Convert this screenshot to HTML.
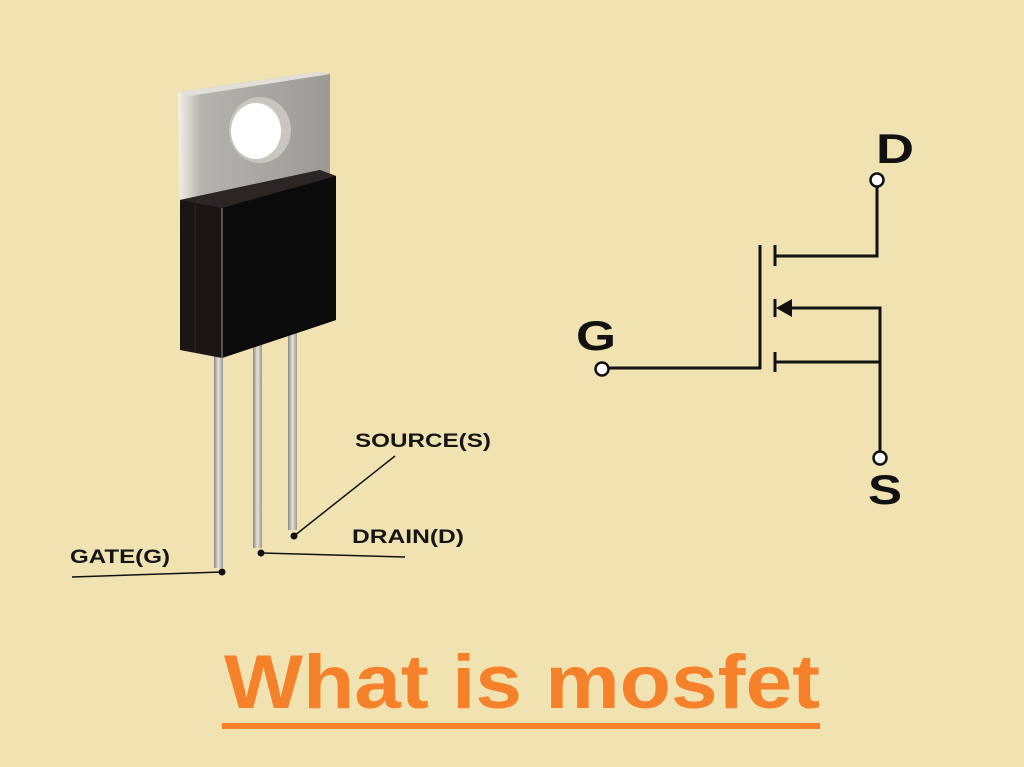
<!DOCTYPE html>
<html><head><style>
html,body{margin:0;padding:0;background:#F0E3B1;}
svg{display:block}
</style></head><body>
<svg width="1024" height="767" viewBox="0 0 1024 767" xmlns="http://www.w3.org/2000/svg">
<defs>
<linearGradient id="tab" x1="0" y1="0" x2="1" y2="0">
<stop offset="0" stop-color="#f4f1ea"/><stop offset="0.15" stop-color="#b5b3ad"/><stop offset="1" stop-color="#9c9a96"/>
</linearGradient>
<linearGradient id="lead" x1="0" y1="0" x2="1" y2="0">
<stop offset="0" stop-color="#8a8782"/><stop offset="0.5" stop-color="#e6e3dc"/><stop offset="1" stop-color="#9a9792"/>
</linearGradient>
</defs>
<rect width="1024" height="767" fill="#F0E3B1"/>
<rect x="214" y="340" width="9" height="228" fill="url(#lead)"/>
<rect x="253" y="335" width="9" height="213" fill="url(#lead)"/>
<rect x="288" y="325" width="9" height="205" fill="url(#lead)"/>
<polygon points="178,92 318,72 330,74 330,200 180,230" fill="url(#tab)"/>
<polygon points="178,92 318,72 330,74 190,96" fill="#e2dfd8"/>
<ellipse cx="260" cy="130" rx="31" ry="33" fill="#c9c6bf"/>
<ellipse cx="256" cy="131" rx="25" ry="28" fill="#ffffff"/>
<polygon points="180,200 320,170 336,176 336,320 222,358 180,350" fill="#1a1616"/>
<polygon points="180,200 320,170 336,176 222,208" fill="#2a2624"/>
<polygon points="222,208 336,176 336,320 222,358" fill="#0c0b0b"/>
<line x1="222" y1="208" x2="222" y2="358" stroke="#5a5552" stroke-width="2"/>
<line x1="195" y1="205" x2="195" y2="352" stroke="#2e2a28" stroke-width="1"/>
<g stroke="#111" stroke-width="1.5">
<line x1="72" y1="577" x2="222" y2="572"/>
<line x1="262" y1="553" x2="405" y2="557"/>
<line x1="294" y1="536" x2="395" y2="456"/>
</g>
<circle cx="222" cy="572" r="3.5" fill="#111"/>
<circle cx="261" cy="553" r="3.5" fill="#111"/>
<circle cx="294" cy="536" r="3.5" fill="#111"/>
<g font-family="Liberation Sans, sans-serif" font-weight="bold" fill="#151515" font-size="19">
<text x="70" y="563" textLength="100" lengthAdjust="spacingAndGlyphs">GATE(G)</text>
<text x="352" y="543" textLength="112" lengthAdjust="spacingAndGlyphs">DRAIN(D)</text>
<text x="355" y="447" textLength="136" lengthAdjust="spacingAndGlyphs">SOURCE(S)</text>
</g>
<g stroke="#111" stroke-width="3" fill="none">
<polyline points="877,186 877,256 775,256"/>
<line x1="775" y1="245" x2="775" y2="266"/>
<line x1="760" y1="245" x2="760" y2="369"/>
<line x1="608" y1="368" x2="761" y2="368"/>
<line x1="775" y1="299" x2="775" y2="317"/>
<polyline points="788,308 880,308 880,453"/>
<line x1="775" y1="352" x2="775" y2="372"/>
<line x1="775" y1="362" x2="880" y2="362"/>
</g>
<polygon points="776,308 792,299 792,317" fill="#111"/>
<g stroke="#111" stroke-width="2.5" fill="#fff">
<circle cx="877" cy="180" r="6.5"/>
<circle cx="602" cy="369" r="6.5"/>
<circle cx="880" cy="458" r="6.5"/>
</g>
<g font-family="Liberation Sans, sans-serif" font-weight="bold" fill="#111" font-size="42">
<text x="876" y="163" textLength="38" lengthAdjust="spacingAndGlyphs">D</text>
<text x="576" y="350" textLength="40" lengthAdjust="spacingAndGlyphs">G</text>
<text x="868" y="504" textLength="34" lengthAdjust="spacingAndGlyphs">S</text>
</g>
<text x="224" y="708" font-family="Liberation Sans, sans-serif" font-weight="bold" font-size="76" fill="#F5822A" textLength="596" lengthAdjust="spacingAndGlyphs">What is mosfet</text>
<rect x="222" y="723" width="598" height="6" fill="#F5822A"/>
</svg>
</body></html>
